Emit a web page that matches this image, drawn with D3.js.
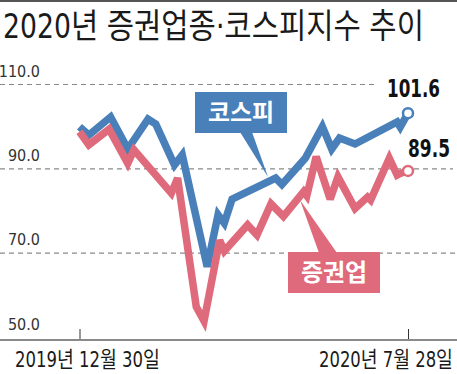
<!DOCTYPE html>
<html><head><meta charset="utf-8">
<script src="https://cdn.jsdelivr.net/npm/d3@7"></script>
<style>
html,body{margin:0;padding:0;background:#fff;}
svg{display:block;}
text{font-family:"Liberation Sans Narrow","DejaVu Sans Condensed","Roboto","Noto Sans CJK KR",sans-serif;}
</style></head><body>
<script>
const title = "2020년 증권업종·코스피지수 추이";
const yTicks = [110, 90, 70, 50];
const xTickDates = ["2019-12-30", "2020-07-28"];
const xTickLabels = ["2019년 12월 30일", "2020년 7월 28일"];
const seriesNames = ["코스피", "증권업"];
const endLabels = ["101.6", "89.5"];

const kospiDates = ["2019-12-30","2020-01-05","2020-01-19","2020-01-30","2020-02-12","2020-02-17","2020-02-29","2020-03-05","2020-03-21","2020-03-28","2020-04-01","2020-04-06","2020-05-04","2020-05-08","2020-05-23","2020-06-03","2020-06-09","2020-06-14","2020-06-24","2020-07-21","2020-07-23","2020-07-28"];
const kospiValues = [100.0,98.0,102.3,94.7,101.8,100.6,90.9,93.3,66.8,79.1,77.1,82.8,87.8,86.3,92.5,100.0,94.7,97.3,95.9,101.1,99.9,103.2];

const secDates = ["2019-12-30","2020-01-05","2020-01-18","2020-01-30","2020-02-03","2020-02-27","2020-03-02","2020-03-14","2020-03-19","2020-03-29","2020-04-01","2020-04-16","2020-04-22","2020-05-01","2020-05-09","2020-05-22","2020-05-24","2020-05-30","2020-06-08","2020-06-13","2020-06-24","2020-07-02","2020-07-04","2020-07-16","2020-07-21","2020-07-23","2020-07-28"];
const secValues = [98.8,95.7,99.4,91.3,94.5,84.2,87.8,57.3,53.9,73.1,70.5,76.7,74.3,81.7,78.7,84.6,83.6,92.9,82.8,88.1,80.6,83.3,82.6,92.5,88.5,88.9,89.5];

const W = 457, H = 374;
const BLUE = "#4a80ba", RED = "#df6a7b";
const parse = d3.utcParse("%Y-%m-%d");

const svg = d3.select("body").append("svg").attr("width", W).attr("height", H);
svg.append("rect").attr("width", W).attr("height", H).attr("fill", "#fff");
svg.append("rect").attr("x",0).attr("y",0).attr("width",W).attr("height",2).attr("fill","#555");

// place text starting at x0 with baseline y0, horizontally scaled to width w
function fitText(str, x0, y0, w, size, attrs) {
  const t = svg.append("text").attr("x", 0).attr("y", 0).attr("font-size", size).text(str);
  Object.entries(attrs || {}).forEach(([k, v]) => t.attr(k, v));
  const nat = t.node().getComputedTextLength();
  const sx = nat > 0 ? w / nat : 1;
  t.attr("transform", `translate(${x0},${y0}) scale(${sx},1)`);
  return t;
}

fitText(title, 3, 38, 421, 34, {fill: "#1a1a1a"});

const x = d3.scaleUtc().domain([parse(xTickDates[0]), parse(xTickDates[1])]).range([79.5, 408]);
const y = d3.scaleLinear().domain([50, 110]).range([337.5, 84.5]);

// gridlines
const gridEnd = {110: 376, 90: 453, 70: 457};
svg.append("g").selectAll("line").data(yTicks.filter(v => v !== 50)).join("line")
  .attr("x1", 0).attr("x2", d => gridEnd[d])
  .attr("y1", d => y(d)).attr("y2", d => y(d))
  .attr("stroke", "#8a8a8a").attr("stroke-width", 1.2).attr("stroke-dasharray", "5,4");

svg.append("g").selectAll("text").data(yTicks).join("text")
  .attr("x", 40).attr("y", d => y(d) - 8).attr("text-anchor", "end")
  .attr("font-size", 16).attr("fill", "#333")
  .text(d => d3.format(".1f")(d));

// x axis
const xAxis = d3.axisBottom(x).tickValues(xTickDates.map(parse)).tickSizeInner(-11).tickSizeOuter(0).tickFormat("");
const gx = svg.append("g").attr("transform", "translate(0,340)").call(xAxis);
gx.select(".domain").remove();
gx.selectAll(".tick line").attr("stroke", "#333").attr("stroke-width", 1);
svg.append("line").attr("x1", 0).attr("x2", W).attr("y1", 340).attr("y2", 340).attr("stroke", "#8a8a8a").attr("stroke-width", 2);

fitText(xTickLabels[0], 15, 367, 145, 22, {fill: "#1a1a1a"});
fitText(xTickLabels[1], 319, 367, 134, 22, {fill: "#1a1a1a"});

const line = d3.line().x(d => x(d[0])).y(d => y(d[1]));
const kospi = kospiDates.map((d, i) => [parse(d), kospiValues[i]]);
const sec = secDates.map((d, i) => [parse(d), secValues[i]]);

// callout pointers
svg.append("path").attr("d", d3.line()([[240,132],[252,132],[268,177]])).attr("fill", BLUE);
svg.append("path").attr("d", d3.line()([[319,253],[337,253],[300,200]])).attr("fill", RED);

svg.append("path").datum(kospi).attr("d", line).attr("fill", "none")
  .attr("stroke", BLUE).attr("stroke-width", 7.5).attr("stroke-linejoin", "miter").attr("stroke-miterlimit", 3);
svg.append("path").datum(sec).attr("d", line).attr("fill", "none")
  .attr("stroke", RED).attr("stroke-width", 7.5).attr("stroke-linejoin", "miter").attr("stroke-miterlimit", 3);

const lastK = kospi[kospi.length - 1], lastS = sec[sec.length - 1];
svg.append("circle").attr("cx", x(lastK[0])).attr("cy", y(lastK[1])).attr("r", 5)
  .attr("fill", "#fff").attr("stroke", BLUE).attr("stroke-width", 2.5);
svg.append("circle").attr("cx", x(lastS[0])).attr("cy", y(lastS[1])).attr("r", 5)
  .attr("fill", "#fff").attr("stroke", RED).attr("stroke-width", 2.5);

fitText(endLabels[0], 387, 97, 53, 24, {fill: "#111", "font-weight": "bold"});
fitText(endLabels[1], 408, 157, 42, 24, {fill: "#111", "font-weight": "bold"});

// callout boxes
svg.append("rect").attr("x", 195).attr("y", 92).attr("width", 92).attr("height", 41).attr("fill", BLUE);
svg.append("text").attr("x", 241).attr("y", 121).attr("text-anchor", "middle").attr("font-size", 24)
  .attr("font-weight", "bold").attr("fill", "#fff")
  .style("font-family", "'Noto Sans CJK KR',sans-serif").text(seriesNames[0]);
svg.append("rect").attr("x", 288).attr("y", 252).attr("width", 92).attr("height", 41).attr("fill", RED);
svg.append("text").attr("x", 334).attr("y", 281).attr("text-anchor", "middle").attr("font-size", 24)
  .attr("font-weight", "bold").attr("fill", "#fff")
  .style("font-family", "'Noto Sans CJK KR',sans-serif").text(seriesNames[1]);
</script>
</body></html>
